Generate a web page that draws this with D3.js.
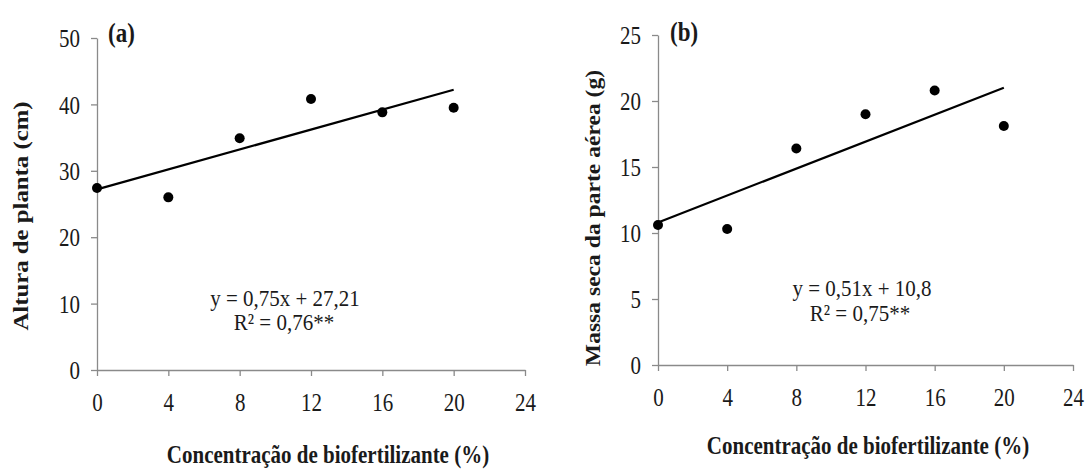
<!DOCTYPE html>
<html>
<head>
<meta charset="utf-8">
<script src="https://cdn.jsdelivr.net/npm/d3@7"></script>
<style>
  html, body { margin: 0; padding: 0; background: #fff; }
  svg { display: block; }
</style>
</head>
<body>
<svg id="chart" width="1085" height="469"></svg>
<script>
// ---- data ----
const concentration = [0, 4, 8, 12, 16, 20];
const alturaPlanta = [27.4, 26.0, 34.9, 40.8, 38.8, 39.5];
const massaSeca = [10.6, 10.3, 16.4, 19.0, 20.8, 18.1];
const fitA = { slope: 0.75, intercept: 27.21 };
const fitB = { slope: 0.51, intercept: 10.8 };
const xTicks = [0, 4, 8, 12, 16, 20, 24];
const yTicksA = [0, 10, 20, 30, 40, 50];
const yTicksB = [0, 5, 10, 15, 20, 25];
const xTitle = "Concentração de biofertilizante (%)";
const yTitleA = "Altura de planta (cm)";
const yTitleB = "Massa seca da parte aérea (g)";
const eqA = ["y = 0,75x + 27,21", "R² = 0,76**"];
const eqB = ["y = 0,51x + 10,8", "R² = 0,75**"];

// ---- drawing ----
const svg = d3.select("#chart");
const FONT = "'Liberation Serif', 'Times New Roman', serif";
const SY = 1.18; // vertical stretch of the original picture
const AXIS_COLOR = "#8a8a8a";
const TEXT_COLOR = "#1a1a1a";

function stretchedText(g, x, y, str, opts) {
  const sy = opts.sy || SY;
  return g.append("text")
    .attr("transform", `translate(${x},${y}) scale(1,${sy})`)
    .attr("text-anchor", opts.anchor || "middle")
    .attr("dy", "0.35em")
    .attr("font-family", FONT)
    .attr("font-size", opts.size || 21)
    .attr("font-weight", opts.bold ? "bold" : "normal")
    .attr("fill", TEXT_COLOR)
    .text(str);
}

function stretchedRotText(g, x, y, str, opts) {
  // rotate first, then stretch along the screen vertical (text length)
  return g.append("text")
    .attr("transform", `translate(${x},${y}) scale(1,${SY}) rotate(-90)`)
    .attr("text-anchor", "middle")
    .attr("dy", "0.35em")
    .attr("font-family", FONT)
    .attr("font-size", opts.size || 21)
    .attr("font-weight", opts.bold ? "bold" : "normal")
    .attr("fill", TEXT_COLOR)
    .text(str);
}

function panel(cfg) {
  const g = svg.append("g");
  const x = d3.scaleLinear().domain([0, 24]).range(cfg.xRange);
  const y = d3.scaleLinear().domain(cfg.yDomain).range(cfg.yRange);

  // x axis
  const xa = g.append("g")
    .attr("transform", `translate(0,${cfg.yRange[0]})`)
    .call(d3.axisBottom(x).tickValues(xTicks).tickSize(6).tickSizeOuter(0).tickFormat(d3.format("d")));
  // y axis
  const ya = g.append("g")
    .attr("transform", `translate(${cfg.xRange[0]},0)`)
    .call(d3.axisLeft(y).tickValues(cfg.yTicks).tickSize(6).tickSizeOuter(0).tickFormat(d3.format("d")));

  [xa, ya].forEach(a => {
    a.select(".domain").attr("stroke", AXIS_COLOR).attr("stroke-width", 1.3);
    a.selectAll(".tick line").attr("stroke", AXIS_COLOR).attr("stroke-width", 1.3);
    a.selectAll(".tick text")
      .attr("font-family", FONT)
      .attr("font-size", 21)
      .attr("fill", TEXT_COLOR);
  });
  xa.selectAll(".tick text")
    .attr("y", null)
    .attr("dy", "0.35em")
    .attr("transform", `translate(0,32) scale(1,${SY})`);
  ya.selectAll(".tick text")
    .attr("x", -17)
    .attr("dy", "0.35em")
    .attr("transform", `scale(1,${SY})`);

  // regression line
  const fit = cfg.fit;
  const line = d3.line().x(d => x(d)).y(d => y(fit.slope * d + fit.intercept));
  g.append("path")
    .datum([concentration[0], concentration[concentration.length - 1]])
    .attr("d", line)
    .attr("fill", "none")
    .attr("stroke", "#000")
    .attr("stroke-width", 2.2);

  // points
  g.selectAll("circle.pt")
    .data(concentration.map((c, i) => ({ c, v: cfg.values[i] })))
    .join("circle")
    .attr("class", "pt")
    .attr("cx", d => x(d.c))
    .attr("cy", d => y(d.v))
    .attr("r", 5)
    .attr("fill", "#000");

  // panel label
  stretchedText(g, cfg.label.x, cfg.label.y, cfg.label.text, { bold: true, anchor: "start", size: 23 });

  // equation
  stretchedText(g, cfg.eqPos[0].x, cfg.eqPos[0].y, cfg.eq[0], { size: 21, sy: 1.1 });
  stretchedText(g, cfg.eqPos[1].x, cfg.eqPos[1].y, cfg.eq[1], { size: 21, sy: 1.1 });

  // axis titles
  stretchedText(g, cfg.xTitlePos.x, cfg.xTitlePos.y, xTitle, { bold: true, size: 21 });
  stretchedRotText(g, cfg.yTitlePos.x, cfg.yTitlePos.y, cfg.yTitle, { bold: true, size: cfg.yTitleSize });
}

panel({
  xRange: [97, 525],
  yDomain: [0, 50],
  yRange: [370, 38],
  yTicks: yTicksA,
  values: alturaPlanta,
  fit: fitA,
  label: { x: 108, y: 32, text: "(a)" },
  eq: eqA,
  eqPos: [{ x: 285, y: 298 }, { x: 284, y: 322 }],
  xTitlePos: { x: 328, y: 454 },
  yTitle: yTitleA,
  yTitleSize: 21,
  yTitlePos: { x: 21, y: 216 }
});

panel({
  xRange: [658, 1073],
  yDomain: [0, 25],
  yRange: [365, 35],
  yTicks: yTicksB,
  values: massaSeca,
  fit: fitB,
  label: { x: 670, y: 31, text: "(b)" },
  eq: eqB,
  eqPos: [{ x: 862, y: 288 }, { x: 860, y: 313 }],
  xTitlePos: { x: 868, y: 445 },
  yTitle: yTitleB,
  yTitleSize: 20,
  yTitlePos: { x: 593, y: 218 }
});
</script>
</body>
</html>
